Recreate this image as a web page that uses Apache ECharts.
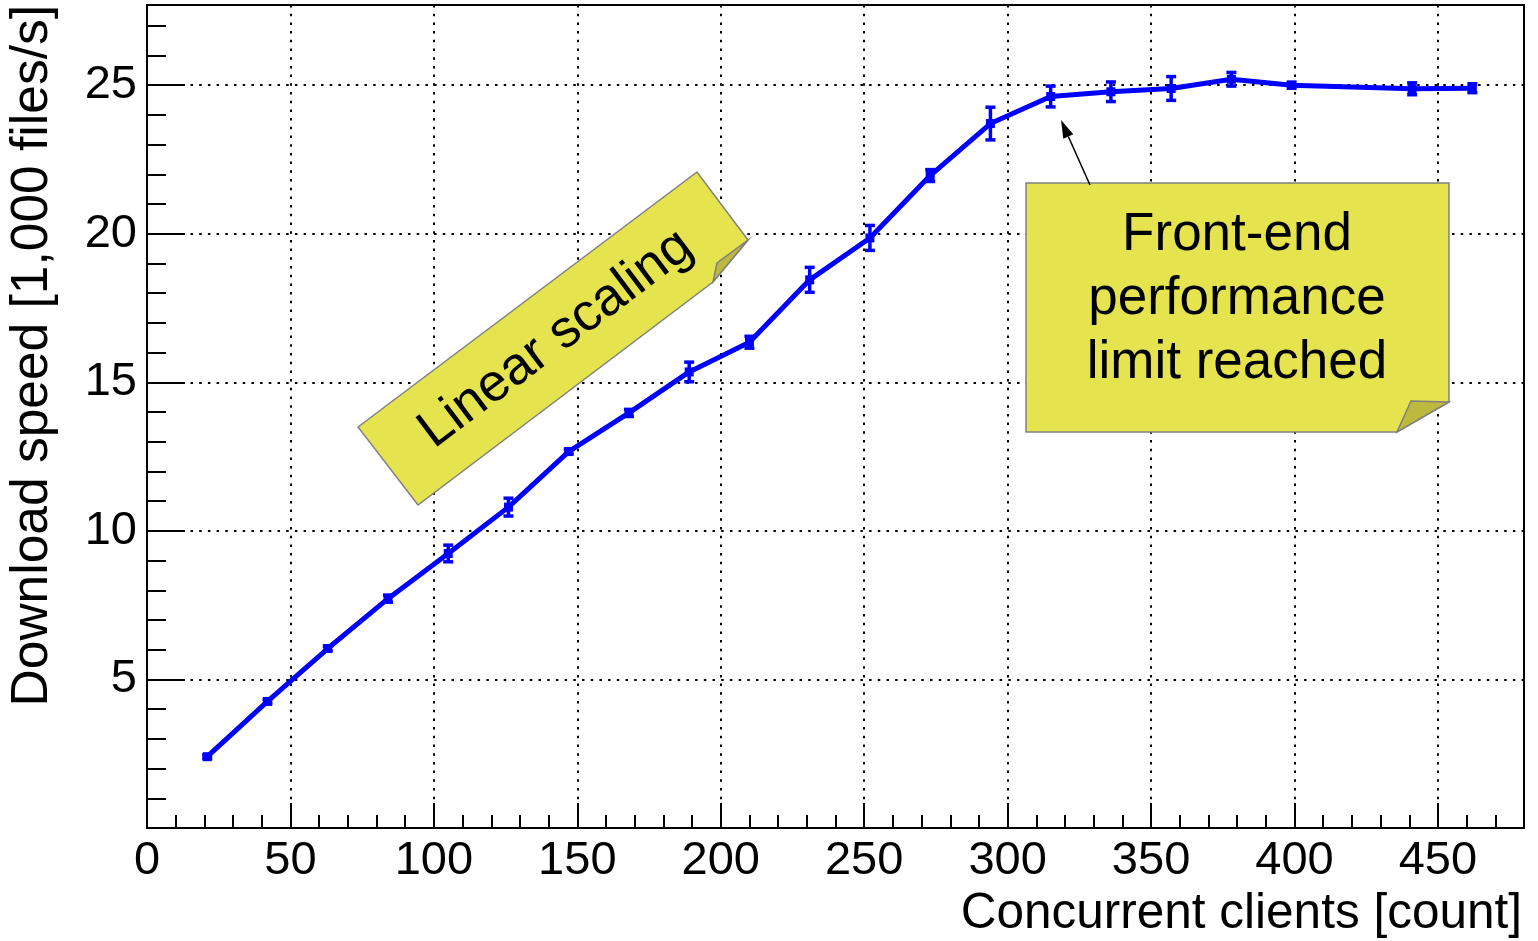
<!DOCTYPE html>
<html><head><meta charset="utf-8">
<script src="https://cdn.jsdelivr.net/npm/echarts@6/dist/echarts.min.js"></script>
<style>html,body{margin:0;padding:0;background:#fff}#c{width:1538px;height:941px}</style>
</head><body><div id="c"></div>
<script>
// ---- data ----
const clients = [21, 42, 63, 84, 105, 126, 147, 168, 189, 210, 231, 252, 273, 294, 315, 336, 357, 378, 399, 441, 462];
const speed = [2.40, 4.26, 6.04, 7.72, 9.24, 10.80, 12.67, 13.97, 15.35, 16.35, 18.45, 19.86, 21.96, 23.71, 24.62, 24.78, 24.89, 25.20, 25.00, 24.88, 24.90];
const speedErr = [0.06, 0.07, 0.08, 0.12, 0.28, 0.30, 0.08, 0.12, 0.33, 0.20, 0.42, 0.42, 0.20, 0.55, 0.35, 0.33, 0.40, 0.23, 0.10, 0.20, 0.15];
const xRange = [0, 480];
const yRange = [0, 27.7];
const xTitle = 'Concurrent clients [count]';
const yTitle = 'Download speed [1,000 files/s]';
const noteLinear = 'Linear scaling';
const noteLimit = ['Front-end', 'performance', 'limit reached'];

const FONT = '"Liberation Sans", Arial, Helvetica, sans-serif';
const BLUE = '#0000ff';
const NOTE_FILL = '#e5e44e';
const FOLD_FILL = '#bcb93e';
const NOTE_EDGE = '#808080';

const chart = echarts.init(document.getElementById('c'), null, {renderer: 'canvas'});

const dotted = {type: [2.5, 6.2], color: '#000', width: 2};

// arrow geometry
const arrowFrom = [1090, 185], arrowTo = [1061, 120];
const dx = arrowTo[0] - arrowFrom[0], dy = arrowTo[1] - arrowFrom[1];
const L = Math.hypot(dx, dy), ux = dx / L, uy = dy / L;
const headLen = 18, headW = 5.5;
const hb = [arrowTo[0] - ux * headLen, arrowTo[1] - uy * headLen];
const head = [arrowTo, [hb[0] - uy * headW, hb[1] + ux * headW], [hb[0] + uy * headW, hb[1] - ux * headW]];

const option = {
  backgroundColor: '#fff',
  animation: false,
  grid: {left: 147, top: 5, right: 14, bottom: 113, show: true, borderColor: '#000', borderWidth: 2, backgroundColor: 'transparent'},
  xAxis: [
    {
      type: 'value', min: xRange[0], max: xRange[1], interval: 50, position: 'bottom',
      axisLine: {show: true, lineStyle: {color: '#000', width: 2}},
      axisTick: {show: true, inside: true, length: 25, lineStyle: {color: '#000', width: 2}},
      splitLine: {show: true, lineStyle: dotted},
      axisLabel: {show: true, color: '#000', fontSize: 47, fontFamily: FONT, margin: 10, showMaxLabel: false,
        formatter: v => (v % 50 === 0 ? String(v) : '')},
      name: xTitle, nameLocation: 'end', nameGap: -2,
      nameTextStyle: {color: '#000', fontSize: 49.5, fontFamily: FONT, align: 'right', verticalAlign: 'top', padding: [61, 0, 0, 0]}
    },
    {
      type: 'value', min: xRange[0], max: xRange[1], interval: 10, position: 'bottom',
      axisLine: {show: false},
      axisTick: {show: true, inside: true, length: 13, lineStyle: {color: '#000', width: 2}},
      splitLine: {show: false}, axisLabel: {show: false}
    }
  ],
  yAxis: [
    {
      type: 'value', min: yRange[0], max: yRange[1], interval: 5, position: 'left',
      axisLine: {show: true, lineStyle: {color: '#000', width: 2}},
      axisTick: {show: true, inside: true, length: 38, lineStyle: {color: '#000', width: 2}},
      splitLine: {show: true, lineStyle: dotted},
      axisLabel: {show: true, color: '#000', fontSize: 47, fontFamily: FONT, margin: 10, showMinLabel: false, showMaxLabel: false,
        formatter: v => (v > 0 && v % 5 === 0 ? String(v) : '')}
    },
    {
      type: 'value', min: yRange[0], max: yRange[1], interval: 1, position: 'left',
      axisLine: {show: false},
      axisTick: {show: true, inside: true, length: 19, lineStyle: {color: '#000', width: 2}},
      splitLine: {show: false}, axisLabel: {show: false}
    }
  ],
  series: [
    {
      type: 'custom', xAxisIndex: 0, yAxisIndex: 0, z: 3,
      data: clients.map((c, i) => [c, speed[i] - speedErr[i], speed[i] + speedErr[i]]),
      encode: {x: 0, y: [1, 2]},
      renderItem: function (params, api) {
        const x = api.value(0);
        const lo = api.coord([x, api.value(1)]);
        const hi = api.coord([x, api.value(2)]);
        const hw = 5;
        const st = {stroke: BLUE, lineWidth: 3.5};
        return {type: 'group', children: [
          {type: 'line', shape: {x1: lo[0], y1: lo[1], x2: hi[0], y2: hi[1]}, style: st},
          {type: 'line', shape: {x1: lo[0] - hw, y1: lo[1], x2: lo[0] + hw, y2: lo[1]}, style: st},
          {type: 'line', shape: {x1: hi[0] - hw, y1: hi[1], x2: hi[0] + hw, y2: hi[1]}, style: st}
        ]};
      }
    },
    {
      type: 'line', xAxisIndex: 0, yAxisIndex: 0, z: 4,
      data: clients.map((c, i) => [c, speed[i]]),
      symbol: 'rect', symbolSize: 9, showSymbol: true,
      lineStyle: {color: BLUE, width: 5},
      itemStyle: {color: BLUE},
      emphasis: {disabled: true}
    }
  ],
  graphic: [
    {
      type: 'text', z: 100, x: 33, y: 5, rotation: Math.PI / 2,
      style: {text: yTitle, fill: '#000', font: '51.5px ' + FONT, align: 'right', verticalAlign: 'middle'}
    },
    // Linear scaling note
    {
      type: 'polygon', z: 100,
      shape: {points: [[358, 427], [697, 172], [748, 240], [713, 282], [418, 505]]},
      style: {fill: NOTE_FILL, stroke: NOTE_EDGE, lineWidth: 1.5}
    },
    {
      type: 'polygon', z: 101,
      shape: {points: [[748, 240], [717, 263], [713, 282]]},
      style: {fill: FOLD_FILL, stroke: NOTE_EDGE, lineWidth: 1.5}
    },
    {
      type: 'text', z: 102, x: 556, y: 339, rotation: Math.atan2(255, 339),
      style: {text: noteLinear, fill: '#000', font: '53px ' + FONT, align: 'center', verticalAlign: 'middle'}
    },
    // Front-end note
    {
      type: 'polygon', z: 100,
      shape: {points: [[1026, 183], [1449, 183], [1449, 402], [1397, 432], [1026, 432]]},
      style: {fill: NOTE_FILL, stroke: NOTE_EDGE, lineWidth: 1.5}
    },
    {
      type: 'polygon', z: 101,
      shape: {points: [[1449, 402], [1411, 401], [1397, 432]]},
      style: {fill: FOLD_FILL, stroke: NOTE_EDGE, lineWidth: 1.5}
    },
    {
      type: 'text', z: 102, x: 1237, y: 299,
      style: {text: noteLimit.join('\n'), fill: '#000', font: '53px ' + FONT, align: 'center', verticalAlign: 'middle', lineHeight: 64}
    },
    // arrow
    {
      type: 'line', z: 103,
      shape: {x1: arrowFrom[0], y1: arrowFrom[1], x2: hb[0], y2: hb[1]},
      style: {stroke: '#000', lineWidth: 1.5}
    },
    {
      type: 'polygon', z: 103,
      shape: {points: head},
      style: {fill: '#000'}
    }
  ]
};
chart.setOption(option);
</script>
</body></html>
